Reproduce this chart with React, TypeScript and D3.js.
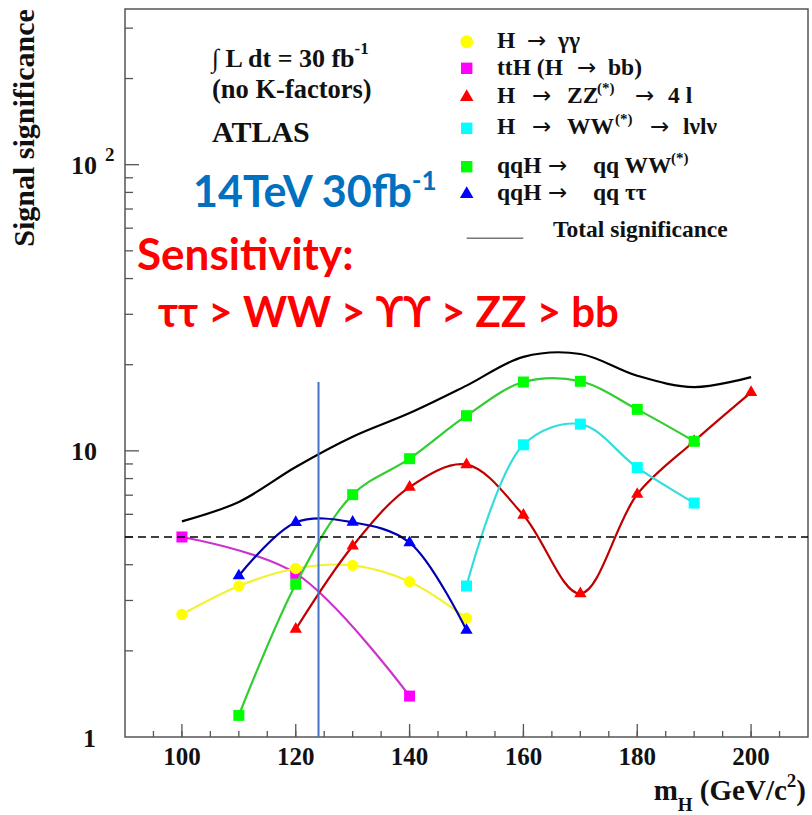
import React from 'react';
import * as d3 from 'd3';

// ATLAS Higgs discovery potential, 30 fb-1 at 14 TeV
const W = 812;
const H = 815;
const frame = { left: 125, right: 808, top: 9, bottom: 737 };

const massDomain = [90, 210];
const sigDomain = [1, 350];

const ggMass = [100, 110, 120, 130, 140, 150];
const ggSig = [2.68, 3.37, 3.88, 3.98, 3.49, 2.6];

const tthMass = [100, 120, 140];
const tthSig = [5.0, 3.73, 1.39];

const zzMass = [120, 130, 140, 150, 160, 170, 180, 190, 200];
const zzSig = [2.38, 4.65, 7.47, 8.95, 5.96, 3.17, 7.05, 10.8, 16.0];

const wwMass = [150, 160, 170, 180, 190];
const wwSig = [3.37, 10.5, 12.4, 8.74, 6.57];

const qqwwMass = [110, 120, 130, 140, 150, 160, 170, 180, 190];
const qqwwSig = [1.19, 3.42, 7.03, 9.39, 13.27, 17.4, 17.5, 13.96, 10.8];

const qqtautauMass = [110, 120, 130, 140, 150];
const qqtautauSig = [3.66, 5.62, 5.63, 4.78, 2.36];

const totalMass = [100, 110, 120, 130, 140, 150, 160, 170, 180, 190, 200];
const totalSig = [5.67, 6.63, 8.78, 11.2, 13.55, 16.9, 21.3, 21.8, 18.3, 16.7, 18.1];

const discoveryLevel = 5;
const markerMass = 124;
const markerTop = 17.4;

const xTickLabels = [100, 120, 140, 160, 180, 200];

const serif = '"Liberation Serif", "Times New Roman", serif';
const sans = 'Lato, "Open Sans", sans-serif';

// draw order matters: later series sit on top
const series = [
  { key: 'tth', mass: tthMass, sig: tthSig, shape: 'square', fill: '#ff00ff', stroke: '#cc33cc' },
  { key: 'gg', mass: ggMass, sig: ggSig, shape: 'circle', fill: '#ffff00', stroke: '#f2f233' },
  { key: 'zz', mass: zzMass, sig: zzSig, shape: 'triangle', fill: '#ff0000', stroke: '#c00000' },
  { key: 'ww', mass: wwMass, sig: wwSig, shape: 'square', fill: '#00ffff', stroke: '#33dddd' },
  { key: 'qqww', mass: qqwwMass, sig: qqwwSig, shape: 'square', fill: '#00ff00', stroke: '#33cc33' },
  { key: 'qqtt', mass: qqtautauMass, sig: qqtautauSig, shape: 'triangle', fill: '#0000ff', stroke: '#0000b0' },
];

const symbolPath = (shape: string, size: number) => {
  const type = shape === 'square' ? d3.symbolSquare : shape === 'triangle' ? d3.symbolTriangle : d3.symbolCircle;
  return d3.symbol().type(type).size(size)() || '';
};

const markerSize: Record<string, number> = { square: 121, triangle: 66, circle: 100 };

const Marker = ({ shape, fill, x, y }: any) => (
  <path d={symbolPath(shape, markerSize[shape])} transform={`translate(${x},${y})`} fill={fill} />
);

const arrowStyle = { fontFamily: '"DejaVu Sans", sans-serif', fontWeight: 400, fontSize: 23 };
const Arrow = ({ x, dy }: { x: number; dy?: number }) => (
  <tspan x={x} dy={dy} style={arrowStyle}>→</tspan>
);

export default function App() {
  const x = d3.scaleLinear().domain(massDomain).range([frame.left, frame.right]);
  const y = d3.scaleLog().domain(sigDomain).range([frame.bottom, frame.top]);

  const line = d3
    .line<[number, number]>()
    .x((d) => x(d[0]))
    .y((d) => y(d[1]))
    .curve(d3.curveCatmullRom.alpha(0.5));

  const xMinor = d3.range(95, 210, 5);
  const yMinor = [2, 3, 4, 5, 6, 7, 8, 9, 20, 30, 40, 50, 60, 70, 80, 90, 200, 300];

  const legendX = 466.7;
  const tx = 497;
  const legendRows = [
    { shape: 'circle', fill: '#ffff00', y: 41.7 },
    { shape: 'square', fill: '#ff00ff', y: 68.3 },
    { shape: 'triangle', fill: '#ff0000', y: 97 },
    { shape: 'square', fill: '#00ffff', y: 128.3 },
    { shape: 'square', fill: '#00ff00', y: 166.7 },
    { shape: 'triangle', fill: '#0000ff', y: 194 },
  ];

  const lt = { fontFamily: serif, fontWeight: 700, fontSize: 23.5, fill: '#111' } as const;
  const sup = { fontSize: 15 };

  return (
    <svg width={W} height={H} style={{ position: 'absolute', left: 0, top: 0, background: '#fff' }}>
      <rect width={W} height={H} fill="#fff" />

      {/* frame */}
      <rect
        x={frame.left}
        y={frame.top}
        width={frame.right - frame.left}
        height={frame.bottom - frame.top}
        fill="none"
        stroke="#555"
        strokeWidth={1.5}
      />

      {/* x ticks */}
      {xMinor.map((m) => (
        <line key={'xm' + m} x1={x(m)} x2={x(m)} y1={frame.bottom} y2={frame.bottom - 6} stroke="#555" strokeWidth={1.3} />
      ))}
      {xTickLabels.map((m) => (
        <g key={'xt' + m}>
          <line x1={x(m)} x2={x(m)} y1={frame.bottom} y2={frame.bottom - 13} stroke="#555" strokeWidth={1.3} />
          <text x={x(m)} y={765} textAnchor="middle" fontFamily={serif} fontWeight={700} fontSize={25} fill="#111">
            {m}
          </text>
        </g>
      ))}

      {/* y ticks */}
      {yMinor.map((v) => (
        <line key={'ym' + v} x1={frame.left} x2={frame.left + 8} y1={y(v)} y2={y(v)} stroke="#555" strokeWidth={1.3} />
      ))}
      {[10, 100].map((v) => (
        <line key={'yM' + v} x1={frame.left} x2={frame.left + 14} y1={y(v)} y2={y(v)} stroke="#555" strokeWidth={1.3} />
      ))}
      <text x={96} y={y(1) + 10} textAnchor="end" fontFamily={serif} fontWeight={700} fontSize={26} fill="#111">1</text>
      <text x={97} y={y(10) + 9} textAnchor="end" fontFamily={serif} fontWeight={700} fontSize={26} fill="#111">10</text>
      <text x={97} y={y(100) + 9} textAnchor="end" fontFamily={serif} fontWeight={700} fontSize={26} fill="#111">10</text>
      <text x={105} y={y(100) - 4} fontFamily={serif} fontWeight={700} fontSize={19} fill="#111">2</text>

      {/* axis titles */}
      <text
        transform={`translate(34,128) rotate(-90)`}
        textAnchor="middle"
        fontFamily={serif}
        fontWeight={700}
        fontSize={30}
        fill="#111"
      >
        Signal significance
      </text>
      <text x={806} y={800} textAnchor="end" fontFamily={serif} fontWeight={700} fontSize={29} fill="#111">
        m
        <tspan dy={11} fontSize={19}>H</tspan>
        <tspan dy={-11}> (GeV/c</tspan>
        <tspan dy={-13} fontSize={19}>2</tspan>
        <tspan dy={13}>)</tspan>
      </text>

      {/* total significance */}
      <path d={line(totalMass.map((m, i) => [m, totalSig[i]]) as any) || ''} fill="none" stroke="#000" strokeWidth={2.2} />

      {/* channel curves and markers */}
      {series.map((s) => (
        <g key={s.key}>
          <path d={line(s.mass.map((m, i) => [m, s.sig[i]]) as any) || ''} fill="none" stroke={s.stroke} strokeWidth={2.2} />
          {s.mass.map((m, i) => (
            <Marker key={m} shape={s.shape} fill={s.fill} x={x(m)} y={y(s.sig[i])} />
          ))}
        </g>
      ))}

      {/* 5 sigma line */}
      <line
        x1={frame.left}
        x2={frame.right}
        y1={y(discoveryLevel)}
        y2={y(discoveryLevel)}
        stroke="#000"
        strokeWidth={1.3}
        strokeDasharray="8,5"
      />

      {/* 124 GeV marker */}
      <line x1={x(markerMass)} x2={x(markerMass)} y1={y(markerTop)} y2={y(1)} stroke="#4472c4" strokeWidth={2} />

      {/* annotations */}
      <text x={212} y={66.7} fontFamily={serif} fontWeight={700} fontSize={26} fill="#111">
        ∫ L dt = 30 fb
        <tspan dy={-13} fontSize={17}>-1</tspan>
      </text>
      <text x={212} y={98} fontFamily={serif} fontWeight={700} fontSize={26.5} fill="#111">
        (no K-factors)
      </text>
      <text x={212} y={141.7} fontFamily={serif} fontWeight={700} fontSize={30} fill="#111">
        ATLAS
      </text>

      <text x={193} y={207} fontFamily={sans} fontWeight={700} fontSize={43} fill="#0070c0">
        14TeV 30fb
        <tspan dy={-17} fontSize={26}>-1</tspan>
      </text>
      <text x={137} y={270} fontFamily={sans} fontWeight={700} fontSize={44} fill="#ff0000">
        Sensitivity:
      </text>
      <text x={158} y={326.7} fontFamily={sans} fontWeight={700} fontSize={42} fill="#ff0000">
        ττ &gt; WW &gt; ϒϒ &gt; ZZ &gt; bb
      </text>

      {/* legend */}
      {legendRows.map((r, i) => (
        <path key={'lg' + i} d={symbolPath(r.shape, r.shape === 'triangle' ? 80 : 130)} transform={`translate(${legendX},${r.y})`} fill={r.fill} />
      ))}
      <line x1={466.7} x2={523.3} y1={238.3} y2={238.3} stroke="#777" strokeWidth={1.5} />

      <text y={48.3} style={lt}>
        <tspan x={tx}>H</tspan>
        <Arrow x={tx + 30} />
        <tspan x={tx + 61}>γγ</tspan>
      </text>
      <text y={74.5} style={lt}>
        <tspan x={tx}>ttH (H</tspan>
        <Arrow x={tx + 80} />
        <tspan x={tx + 111}>bb)</tspan>
      </text>
      <text y={102.7} style={lt}>
        <tspan x={tx}>H</tspan>
        <Arrow x={tx + 35} />
        <tspan x={tx + 70}>ZZ</tspan>
        <tspan x={tx + 100} dy={-10} style={sup}>(*)</tspan>
        <Arrow x={tx + 138} dy={10} />
        <tspan x={tx + 171}>4 l</tspan>
      </text>
      <text y={134.3} style={lt}>
        <tspan x={tx}>H</tspan>
        <Arrow x={tx + 35} />
        <tspan x={tx + 70}>WW</tspan>
        <tspan x={tx + 118} dy={-10} style={sup}>(*)</tspan>
        <Arrow x={tx + 153} dy={10} />
        <tspan x={tx + 186}>lνlν</tspan>
      </text>
      <text y={172.7} style={lt}>
        <tspan x={tx}>qqH</tspan>
        <Arrow x={tx + 51} />
        <tspan x={tx + 96}>qq WW</tspan>
        <tspan x={tx + 174} dy={-10} style={sup}>(*)</tspan>
      </text>
      <text y={200} style={lt}>
        <tspan x={tx}>qqH</tspan>
        <Arrow x={tx + 51} />
        <tspan x={tx + 96}>qq ττ</tspan>
      </text>
      <text x={553} y={236.7} style={lt}>
        Total significance
      </text>
    </svg>
  );
}
